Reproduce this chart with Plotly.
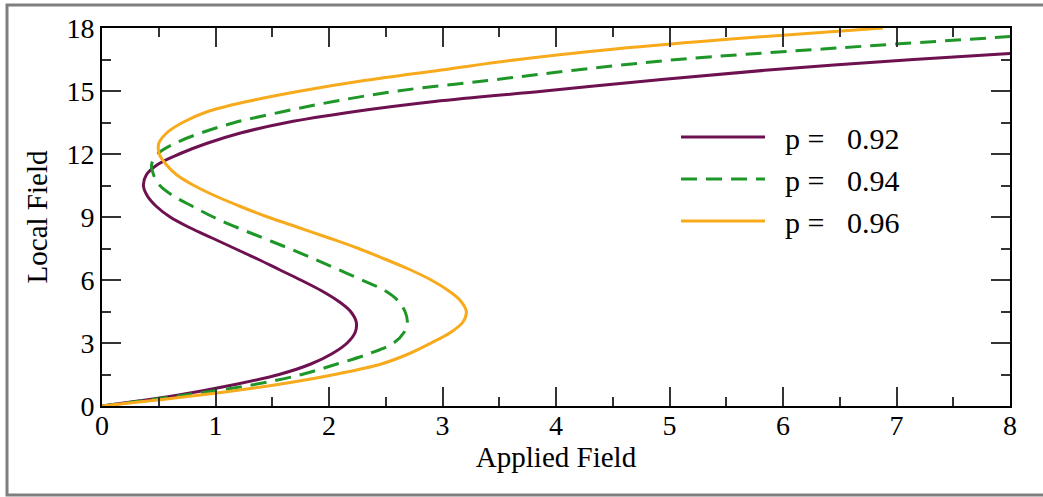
import plotly.graph_objects as go

# ---- data, local field (y) vs applied field (x) ----
p092_y = [0, 0.5, 1.0, 1.5, 2.0, 2.5, 3.0, 3.5, 4.0, 4.5, 5.0, 5.5, 6.0, 6.5, 7.0, 7.5, 8.0,
          8.5, 9.0, 9.5, 10.0, 10.5, 11.0, 11.5, 12.0, 12.5, 13.0, 13.5, 14.0, 14.5, 15.0,
          15.5, 16.0, 16.5, 16.79]
p092_x = [0, 0.65, 1.15, 1.56, 1.84, 2.03, 2.16, 2.23, 2.24, 2.19, 2.08, 1.93, 1.75, 1.56, 1.37, 1.17, 0.97,
          0.77, 0.60, 0.48, 0.40, 0.365, 0.39, 0.49, 0.68, 0.92, 1.22, 1.63, 2.2, 2.93, 3.9,
          4.84, 5.87, 7.15, 8.0]

p094_y = [0, 0.5, 1.0, 1.5, 2.0, 2.5, 3.0, 3.5, 4.0, 4.5, 5.0, 5.5, 6.0, 6.5, 7.0, 7.5, 8.0,
          8.5, 9.0, 9.5, 10.0, 10.5, 11.0, 11.5, 12.0, 12.5, 13.0, 13.5, 14.0, 14.5, 15.0,
          15.5, 16.0, 16.5, 17.0, 17.59]
p094_x = [0, 0.70, 1.32, 1.76, 2.07, 2.36, 2.57, 2.66, 2.69, 2.67, 2.61, 2.49, 2.29, 2.08, 1.87, 1.65, 1.42,
          1.19, 0.98, 0.80, 0.63, 0.51, 0.455, 0.437, 0.49, 0.64, 0.87, 1.17, 1.58, 2.04, 2.6,
          3.4, 4.18, 5.07, 6.35, 8.0]

p096_y = [0, 0.5, 1.0, 1.5, 2.0, 2.5, 3.0, 3.5, 4.0, 4.5, 5.0, 5.5, 6.0, 6.5, 7.0, 7.5, 8.0,
          8.5, 9.0, 9.5, 10.0, 10.5, 11.0, 11.5, 12.0, 12.5, 13.0, 13.5, 14.0, 14.5, 15.0,
          15.5, 16.0, 16.5, 17.0, 17.5, 18.0]
p096_x = [0, 0.83, 1.52, 2.05, 2.46, 2.71, 2.9, 3.07, 3.18, 3.21, 3.16, 3.05, 2.9, 2.71, 2.49, 2.26, 2.0,
          1.73, 1.46, 1.22, 1.0, 0.81, 0.66, 0.565, 0.505, 0.50, 0.57, 0.71, 0.92, 1.28, 1.75,
          2.31, 2.99, 3.67, 4.52, 5.6, 6.88]

series_names = ["p = \u00a0\u00a00.92", "p = \u00a0\u00a00.94", "p = \u00a0\u00a00.96"]
x_ticks = [0, 1, 2, 3, 4, 5, 6, 7, 8]
y_ticks = [0, 3, 6, 9, 12, 15, 18]

colors = ["#6e1150", "#1e9628", "#f7aa1c"]
dashes = ["solid", "16px,9px", "solid"]

FONT = "Liberation Serif, Times New Roman, serif"

fig = go.Figure()
for i, (xs, ys, name, c, d) in enumerate(zip([p092_x, p094_x, p096_x], [p092_y, p094_y, p096_y],
                                             series_names, colors, dashes)):
    fig.add_trace(go.Scatter(x=xs, y=ys, mode="lines", name="\u00a0\u00a0" + name,
                             legendgroup="g%d" % i,
                             line=dict(color=c, width=3, dash=d, shape="spline", smoothing=1.0)))

W, H = 1043, 497
ml, mr, mt, mb = 102, 33, 28, 91
pw, ph = W - ml - mr, H - mt - mb


def px2paper_x(px):
    return (px - ml) / pw


def px2paper_y(py):
    return (H - mb - py) / ph


axis_common = dict(
    showline=True, linecolor="black", linewidth=2, mirror="ticks",
    ticks="inside", ticklen=19, tickwidth=2, tickcolor="#333333",
    showgrid=False, zeroline=False,
    tickfont=dict(family=FONT, size=28, color="black"),
)

fig.update_layout(
    width=W, height=H,
    margin=dict(l=ml, r=mr, t=mt, b=mb),
    paper_bgcolor="white", plot_bgcolor="white",
    font=dict(family=FONT, color="black"),
    xaxis=dict(range=[0, 8], tickvals=x_ticks, ticktext=[str(v) for v in x_ticks],
               ticklabelstandoff=-7,
               minor=dict(dtick=0.5, tick0=0, ticks="inside", ticklen=9, tickwidth=2, tickcolor="#333333"),
               title=dict(text="Applied Field", font=dict(family=FONT, size=29), standoff=0),
               **axis_common),
    yaxis=dict(range=[0, 18], tickvals=y_ticks, ticktext=[str(v) for v in y_ticks],
               minor=dict(dtick=1.5, tick0=0, ticks="inside", ticklen=9, tickwidth=2, tickcolor="#333333"),
               title=dict(text="Local Field", font=dict(family=FONT, size=29), standoff=10),
               **axis_common),
    legend=dict(x=px2paper_x(676), y=px2paper_y(111), xanchor="left", yanchor="top",
                bgcolor="rgba(0,0,0,0)", font=dict(family=FONT, size=30, color="black"),
                itemwidth=84, tracegroupgap=0),
    showlegend=True,
    shapes=[dict(type="rect", xref="paper", yref="paper",
                 x0=px2paper_x(7), x1=px2paper_x(1060), y0=px2paper_y(495), y1=px2paper_y(5),
                 line=dict(color="#7f7f7f", width=3), layer="below")],
)

fig.write_html("out.html")
